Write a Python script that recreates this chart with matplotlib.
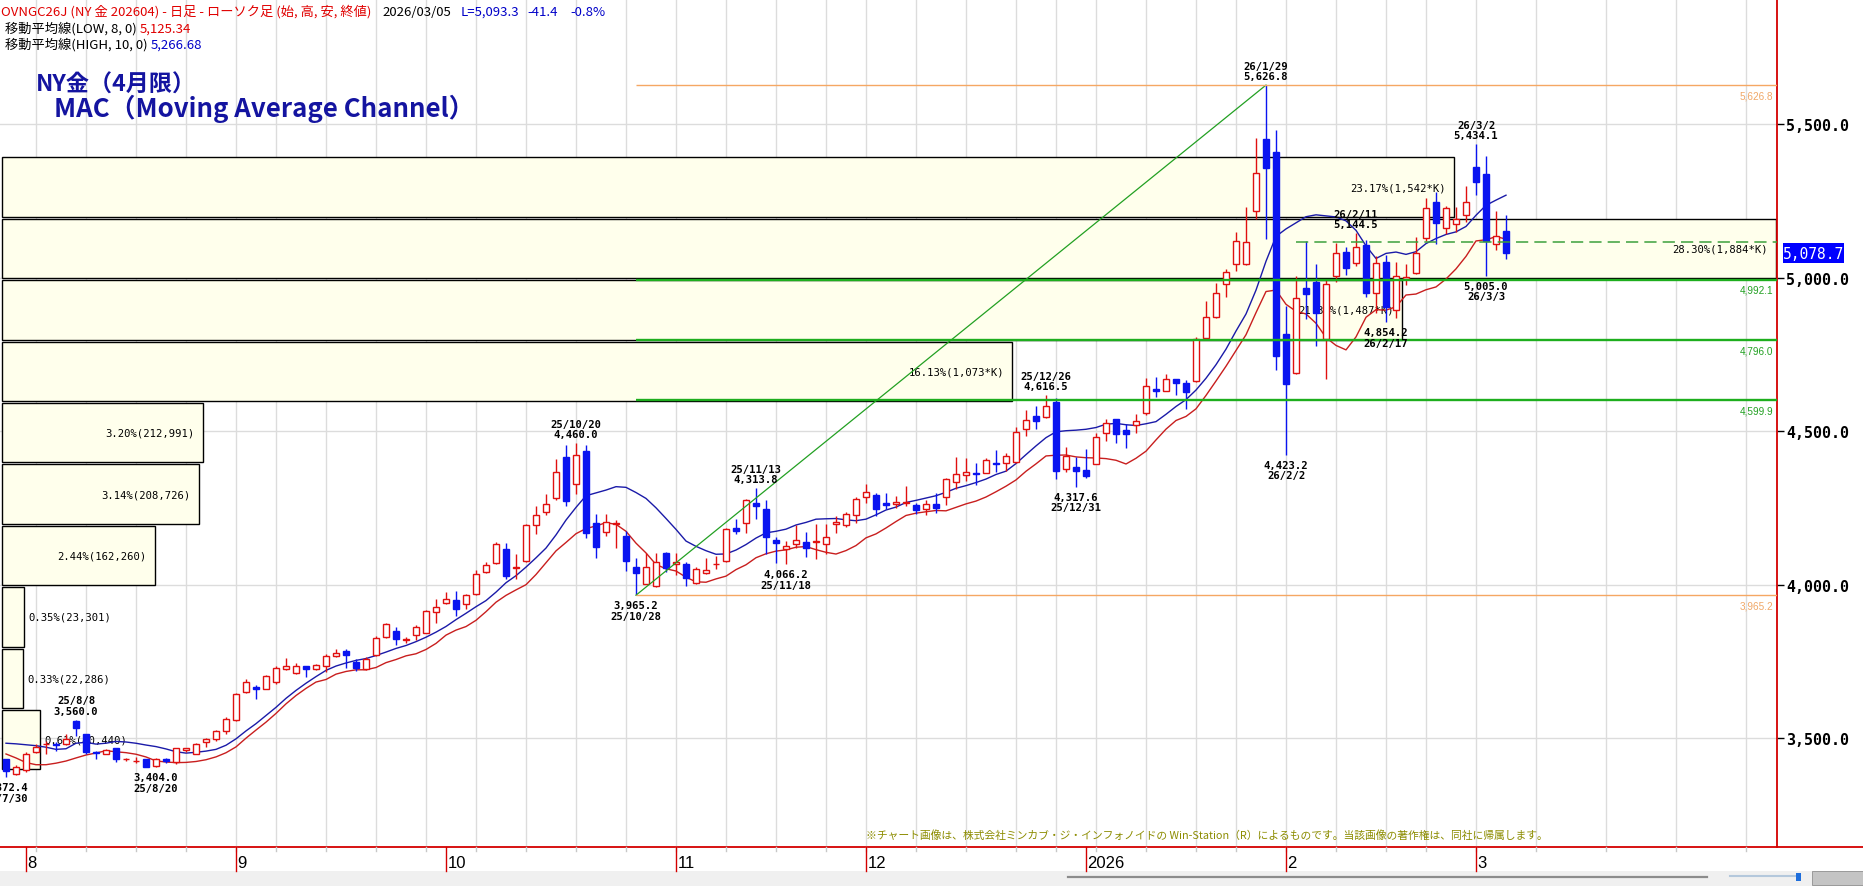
import matplotlib
matplotlib.use("Agg")
import matplotlib.pyplot as plt
import matplotlib.transforms as mtransforms
from matplotlib.patches import Rectangle
from matplotlib.lines import Line2D
from matplotlib import font_manager
import numpy as np
import pandas as pd

# ------------------------------------------------------------------ data
trade_start = "2025-07-30"
trade_end = "2026-03-05"
exchange_holidays = ["2025-09-01", "2025-11-27", "2025-12-25",
                     "2026-01-01", "2026-01-19", "2026-02-16"]

opens = [3431, 3384, 3396, 3453, 3480, 3482, 3480, 3555, 3512, 3455,
         3449, 3466, 3430, 3424, 3431, 3408, 3431, 3422, 3462, 3449,
         3487, 3496, 3523, 3559, 3650, 3666, 3661, 3683, 3724, 3713,
         3733, 3724, 3733, 3767, 3782, 3746, 3724, 3771, 3830, 3849,
         3819, 3836, 3843, 3911, 3941, 3949, 3938, 3968, 4041, 4071,
         4115, 4055, 4077, 4193, 4236, 4283, 4416, 4328, 4435, 4199,
         4172, 4196, 4158, 4058, 4003, 3995, 4102, 4066, 4066, 4006,
         4039, 4066, 4077, 4185, 4201, 4264, 4245, 4144, 4115, 4131,
         4140, 4140, 4131, 4196, 4193, 4225, 4286, 4290, 4267, 4261,
         4266, 4258, 4247, 4263, 4286, 4334, 4356, 4364, 4364, 4397,
         4395, 4399, 4507, 4549, 4547, 4594, 4377, 4384, 4373, 4393,
         4492, 4538, 4503, 4518, 4560, 4636, 4630, 4668, 4657, 4662,
         4803, 4871, 4979, 5045, 5045, 5218, 5451, 5408, 4817, 4690,
         4965, 4984, 4800, 5004, 5082, 5047, 5106, 4949, 5049, 4895,
         4995, 5015, 5128, 5247, 5160, 5175, 5202, 5359, 5337, 5110,
         5153]
highs = [3433, 3411, 3455, 3480, 3491, 3487, 3512, 3560.0, 3514, 3458,
         3463, 3469, 3436, 3439, 3433, 3436, 3436, 3469, 3469, 3485,
         3501, 3526, 3570, 3648, 3691, 3672, 3704, 3733, 3762, 3743,
         3735, 3742, 3773, 3789, 3791, 3756, 3764, 3832, 3874, 3862,
         3830, 3868, 3917, 3954, 3976, 3979, 3970, 4047, 4073, 4138,
         4136, 4098, 4196, 4256, 4294, 4408, 4453, 4460.0, 4453, 4229,
         4229, 4209, 4174, 4087, 4102, 4102, 4106, 4104, 4073, 4057,
         4087, 4093, 4185, 4214, 4280, 4313.8, 4275, 4156, 4142, 4193,
         4171, 4198, 4198, 4223, 4236, 4286, 4326, 4297, 4299, 4288,
         4321, 4267, 4275, 4297, 4348, 4416, 4413, 4397, 4413, 4437,
         4429, 4514, 4567, 4581, 4616.5, 4606, 4449, 4415, 4442, 4494,
         4538, 4540, 4522, 4557, 4673, 4676, 4687, 4670, 4665, 4806,
         4922, 4982, 5028, 5147, 5229, 5453, 5626.8, 5482, 4907, 5005,
         5120, 5044, 4994, 5112, 5101, 5144.5, 5123, 5069, 5073, 5049,
         5044, 5131, 5258, 5277, 5234, 5229, 5299, 5434.1, 5397, 5218,
         5204]
lows = [3372.4, 3379, 3388, 3450, 3449, 3458, 3477, 3507, 3449, 3431,
        3447, 3423, 3426, 3417, 3406, 3404.0, 3420, 3415, 3453, 3447,
        3472, 3491, 3514, 3556, 3648, 3626, 3659, 3675, 3721, 3708,
        3700, 3721, 3715, 3765, 3729, 3718, 3722, 3767, 3827, 3802,
        3811, 3819, 3841, 3876, 3938, 3898, 3919, 3965, 4036, 4066,
        4019, 4019, 4073, 4163, 4225, 4275, 4256, 4294, 4153, 4087,
        4158, 4120, 4044, 3965.2, 4001, 3993, 4041, 4030, 3995, 4001,
        4033, 4052, 4073, 4163, 4167, 4214, 4098, 4070, 4066.2, 4120,
        4091, 4082, 4098, 4169, 4188, 4201, 4267, 4223, 4245, 4250,
        4256, 4229, 4225, 4234, 4258, 4312, 4337, 4323, 4362, 4366,
        4370, 4397, 4484, 4505, 4543, 4343, 4366, 4317.6, 4348, 4391,
        4467, 4462, 4446, 4492, 4551, 4611, 4629, 4616, 4573, 4660,
        4795, 4868, 4936, 5020, 5041, 5191, 5124, 4698, 4423.2, 4687,
        4866, 4778, 4668, 4986, 5008, 5036, 4935, 4884, 4854.2, 4867,
        4974, 5011, 5120, 5109, 5142, 5148, 5180, 5269, 5005.0, 5091,
        5059]
closes = [3393, 3404, 3447, 3472, 3482, 3477, 3498, 3533, 3453, 3450,
          3460, 3431, 3432, 3426, 3407, 3433, 3425, 3466, 3466, 3482,
          3498, 3522, 3563, 3643, 3683, 3659, 3702, 3729, 3735, 3735,
          3724, 3737, 3767, 3776, 3769, 3728, 3756, 3827, 3870, 3822,
          3824, 3863, 3914, 3928, 3954, 3921, 3965, 4033, 4063, 4131,
          4028, 4058, 4193, 4225, 4263, 4367, 4272, 4422, 4167, 4122,
          4205, 4201, 4077, 4039, 4058, 4073, 4055, 4074, 4022, 4052,
          4047, 4068, 4182, 4174, 4275, 4256, 4156, 4136, 4126, 4144,
          4120, 4142, 4156, 4204, 4229, 4280, 4301, 4247, 4259, 4270,
          4269, 4243, 4263, 4250, 4343, 4359, 4366, 4361, 4405, 4393,
          4418, 4498, 4535, 4532, 4581, 4370, 4418, 4370, 4355, 4481,
          4527, 4491, 4489, 4532, 4646, 4630, 4668, 4657, 4627, 4801,
          4871, 4949, 5017, 5120, 5117, 5339, 5356, 4744, 4654, 4933,
          4947, 4884, 4979, 5080, 5030, 5098, 4950, 5047, 4903, 5006,
          5001, 5080, 5225, 5178, 5226, 5191, 5247, 5310, 5120, 5134.7,
          5078.7]

# moving-average values before the window is complete
ma_high_head = [3483, 3481, 3478, 3475, 3470, 3463, 3465, 3483, 3486]
ma_low_head = [3448, 3435, 3420, 3413, 3413, 3418, 3425]
ma_high_len = 10
ma_low_len = 8

# price-band volume boxes
band_tops = [5391, 5191, 4991, 4791, 4591, 4391, 4191, 3991, 3791, 3591]
band_pct = [23.17, 28.30, 21.34, 16.13, 3.20, 3.14, 2.44, 0.35, 0.33, 0.61]
band_vol = [1542000, 1884000, 1487000, 1073000, 212991, 208726, 162260,
            23301, 22286, 40440]
band_vol_text = ["1,542*K", "1,884*K", "1,487*K", "1,073*K", "212,991",
                 "208,726", "162,260", "23,301", "22,286", "40,440"]

fib_ratios = [0.382, 0.5, 0.618]
dashed_level = 5114.6
dashed_start_idx = 129

peak_idx = [7, 57, 75, 104, 126, 135, 147]
trough_idx = [0, 15, 63, 78, 107, 128, 138, 148]

yticks = [3500, 4000, 4500, 5000, 5500]
last_price_box = 5078.7

header_code = "OVNGC26J (NY 金 202604) - 日足 - ローソク足 (始, 高, 安, 終値)"
header_date = "2026/03/05"
header_last = 5093.3
header_chg = -41.4
header_chg_pct = -0.8
ma_low_value = 5125.34
ma_high_value = 5266.68
title1 = "NY金（4月限）"
title2 = "MAC（Moving Average Channel）"
copyright_text = ("※チャート画像は、株式会社ミンカブ・ジ・インフォノイドの Win-Station（R）"
                  "によるものです。当該画像の著作権は、同社に帰属します。")

# ------------------------------------------------------------------ helpers
W, H = 1863, 887
DPI = 100
PLOT_R = 1777      # px, right edge of plot
PLOT_B = 848       # px, bottom edge of plot


def has_font(name):
    try:
        font_manager.findfont(font_manager.FontProperties(family=name),
                              fallback_to_default=False)
        return True
    except Exception:
        return False


NARROW = "Liberation Sans Narrow" if has_font("Liberation Sans Narrow") else "Liberation Sans"
CJK = ["Noto Sans CJK JP", "DejaVu Sans"]
MONO = "DejaVu Sans Mono"

RED = "#E01010"
BLUE = "#0A14F0"
MA_BLUE = "#1A1AA8"
MA_RED = "#C81E1E"
GRID = "#DCDCDC"
BOXFILL = "#FFFFEC"
FIBGREEN = "#1EAE1E"
ORANGE = "#F5A763"


def fx(x):
    return x / W


def fy(y):
    return 1 - y / H


dates = pd.bdate_range(trade_start, trade_end)
dates = dates[~dates.isin(pd.to_datetime(exchange_holidays))]
n = len(closes)
dates = dates[:n]

o = np.array(opens, float)
h = np.array(highs, float)
l = np.array(lows, float)
c = np.array(closes, float)

ma_high = pd.Series(h).rolling(ma_high_len).mean().to_numpy()
ma_high[:len(ma_high_head)] = ma_high_head
ma_low = pd.Series(l).rolling(ma_low_len).mean().to_numpy()
ma_low[:len(ma_low_head)] = ma_low_head

# ------------------------------------------------------------------ figure
fig = plt.figure(figsize=(W / DPI, H / DPI), dpi=DPI)
fig.patch.set_facecolor("white")
ax = fig.add_axes([0, fy(PLOT_B), PLOT_R / W, PLOT_B / H])
x_left = -0.6
x_right = PLOT_R / 10 - 0.6
ax.set_xlim(x_left, x_right)
ax.set_ylim(3144.96, 5907.2)
ax.set_facecolor("white")
for s in ["top", "left", "bottom"]:
    ax.spines[s].set_visible(False)
ax.spines["right"].set_color("#D40000")
ax.spines["right"].set_linewidth(1.3)

# grid
for yt in yticks:
    ax.axhline(yt, color=GRID, lw=1.0, zorder=0)
week_idx = [i for i in range(1, n) if dates[i].weekday() < dates[i - 1].weekday()]
future_idx = list(np.arange(n + 2, x_right, 7))
for wi in week_idx + future_idx:
    ax.axvline(wi, color=GRID, lw=1.0, zorder=0)

# volume boxes
blend = mtransforms.blended_transform_factory(ax.transAxes, ax.transData)
vmax = max(band_vol)
full_w = (PLOT_R - 3) / PLOT_R
x0 = 2 / PLOT_R
box_h = 193
for top, pct, vol, vtxt in zip(band_tops, band_pct, band_vol, band_vol_text):
    wfrac = vol / vmax * full_w
    ax.add_patch(Rectangle((x0, top - box_h), wfrac, box_h, transform=blend,
                           facecolor=BOXFILL, edgecolor="black", lw=1.0, zorder=1))
    label = f"{pct:.2f}%({vtxt})"
    box_px = wfrac * PLOT_R
    if len(label) * 6.2 + 16 < box_px:
        ax.text(x0 + wfrac - 8 / PLOT_R, top - box_h / 2, label, transform=blend,
                ha="right", va="center", fontsize=7.6, family=MONO, color="black",
                zorder=2)
    else:
        ax.text(x0 + wfrac + 4 / PLOT_R, top - box_h / 2, label, transform=blend,
                ha="left", va="center", fontsize=7.6, family=MONO, color="black",
                zorder=2)

# moving averages
xs = np.arange(n)
ax.plot(xs, ma_high, color=MA_BLUE, lw=1.0, zorder=3)
ax.plot(xs, ma_low, color=MA_RED, lw=1.0, zorder=3)

# candles
body_w = 0.62
for i in range(n):
    up = c[i] >= o[i]
    col = RED if up else BLUE
    ax.vlines(i, l[i], h[i], color=col, lw=1.0, zorder=4)
    bot = min(o[i], c[i])
    hgt = max(abs(c[i] - o[i]), 0.8)
    ax.add_patch(Rectangle((i - body_w / 2, bot), body_w, hgt,
                           facecolor="white" if up else col, edgecolor=col,
                           lw=1.0, zorder=5))

# swing, trendline and fibonacci levels
hi_idx = int(np.argmax(h))
lo_idx = int(np.argmin(l[50:hi_idx])) + 50
hi_val, lo_val = h[hi_idx], l[lo_idx]
ax.plot([lo_idx, hi_idx], [lo_val, hi_val], color="#22A022", lw=0.9, zorder=6)
for lv in (hi_val, lo_val):
    ax.hlines(lv, lo_idx, x_right, color=ORANGE, lw=1.0, zorder=6)
fib_levels = [hi_val - r * (hi_val - lo_val) for r in fib_ratios]
for lv in fib_levels:
    ax.hlines(lv, lo_idx, x_right, color=FIBGREEN, lw=1.7, zorder=6)
ax.hlines(dashed_level, dashed_start_idx, x_right, color="#3CA03C", lw=1.1,
          linestyles=(0, (8, 4)), zorder=6)

lab_tr = mtransforms.offset_copy(blend, fig=fig, x=0, y=-10, units="dots")
for lv in (hi_val, lo_val):
    ax.text((PLOT_R - 4) / PLOT_R, lv, f"{lv:,.1f}", transform=lab_tr, ha="right",
            va="center", fontsize=7.2, family=NARROW, color="#F0A868", zorder=7)
for lv in fib_levels:
    ax.text((PLOT_R - 4) / PLOT_R, lv, f"{lv:,.1f}", transform=lab_tr, ha="right",
            va="center", fontsize=7.2, family=NARROW, color="#22A022", zorder=7)


def date_label(i):
    d = dates[i]
    return f"{d.year % 100}/{d.month}/{d.day}"


for i in peak_idx:
    ax.annotate(f"{date_label(i)}\n{h[i]:,.1f}", xy=(i, h[i]), xytext=(0, 4),
                textcoords="offset pixels", ha="center", va="bottom",
                fontsize=7.6, family=MONO, fontweight="bold", linespacing=1.05,
                zorder=8, clip_on=True)
for i in trough_idx:
    ax.annotate(f"{l[i]:,.1f}\n{date_label(i)}", xy=(i, l[i]), xytext=(0, -5),
                textcoords="offset pixels", ha="center", va="top",
                fontsize=7.6, family=MONO, fontweight="bold", linespacing=1.05,
                zorder=8, clip_on=True)

# y axis on right
ax.set_xticks([])
ax.yaxis.tick_right()
ax.set_yticks(yticks)
ax.set_yticklabels([f"{v:,.1f}" for v in yticks])
ax.tick_params(axis="y", which="both", right=True, left=False, length=5,
               width=1, color="black", pad=1.5, labelsize=10.8)
for lb in ax.get_yticklabels():
    lb.set_fontfamily(MONO)
    lb.set_fontweight("bold")

# last price box
py = 278.5 - (last_price_box - 5000) * 0.307
fig.patches.append(Rectangle((fx(1783), fy(py + 10)), 61 / W, 20 / H,
                             transform=fig.transFigure, facecolor="#0000FF",
                             edgecolor="none", zorder=5))
fig.text(fx(1813.5), fy(py), f"{last_price_box:,.1f}", ha="center", va="center",
         color="white", fontsize=10.5, family=MONO, zorder=6)

# bottom axis line & month ticks
fig.add_artist(Line2D([0, 1], [fy(PLOT_B), fy(PLOT_B)], transform=fig.transFigure,
                      color="#D40000", lw=1.3))
for wi in week_idx + future_idx:
    xp = (wi - x_left) * 10
    fig.add_artist(Line2D([fx(xp), fx(xp)], [fy(PLOT_B), fy(PLOT_B + 4)],
                          transform=fig.transFigure, color="#C8C8C8", lw=1))
month_idx = [i for i in range(1, n) if dates[i].month != dates[i - 1].month]
for mi in month_idx:
    xp = (mi - x_left) * 10
    fig.add_artist(Line2D([fx(xp), fx(xp)], [fy(PLOT_B), fy(872)],
                          transform=fig.transFigure, color="#D40000", lw=1))
    d = dates[mi]
    lab = str(d.year) if d.month == 1 else str(d.month)
    fig.text(fx(xp + 1.5), fy(864), lab, ha="left", va="center", fontsize=12,
             family=NARROW, color="black")

# bottom status bar
fig.patches.append(Rectangle((0, 0), 1, 15 / H, transform=fig.transFigure,
                             facecolor="#F0F0F0", edgecolor="none", zorder=0))
fig.add_artist(Line2D([fx(1068), fx(1707)], [fy(878), fy(878)],
                      transform=fig.transFigure, color="#8C8C8C", lw=1.6))
fig.add_artist(Line2D([fx(1730), fx(1800)], [fy(877), fy(877)],
                      transform=fig.transFigure, color="#B4C8DC", lw=1.5))
fig.patches.append(Rectangle((fx(1796), fy(882)), 5 / W, 8 / H,
                             transform=fig.transFigure, facecolor="#1E6EDC",
                             edgecolor="none", zorder=3))
fig.patches.append(Rectangle((fx(1812), fy(886)), 51 / W, 14 / H,
                             transform=fig.transFigure, facecolor="#C4C4C4",
                             edgecolor="#909090", lw=0.6, zorder=3))

# ------------------------------------------------------------------ texts
renderer = fig.canvas.get_renderer()


def put(x, y, s, w=None, color="black", family=CJK, weight="normal", size=9):
    t = fig.text(fx(x), fy(y), s, ha="left", va="center", color=color,
                 family=family, fontweight=weight, fontsize=size, zorder=10)
    if w is not None:
        bb = t.get_window_extent(renderer=renderer)
        if bb.width > 0:
            t.set_fontsize(size * w / bb.width)
    return t


def chain(x, y, segments, size):
    """Place coloured text segments one after another on a line."""
    for s, col, gap in segments:
        t = put(x, y, s, color=col, size=size)
        bb = t.get_window_extent(renderer=renderer)
        x += bb.width + gap


HDR_RED = "#E00000"
HDR_BLUE = "#0000C8"
HS = 9.5
chain(1, 12, [(header_code, HDR_RED, 11),
              (header_date, "black", 9),
              (f"L={header_last:,.1f}", HDR_BLUE, 9),
              (f"{header_chg:.1f}", HDR_BLUE, 12),
              (f"{header_chg_pct:.1f}%", HDR_BLUE, 0)], HS)
chain(5, 29, [(f"移動平均線(LOW, {ma_low_len}, 0)", "black", 3),
              (f"{ma_low_value:,.2f}", HDR_RED, 0)], HS)
chain(5, 45, [(f"移動平均線(HIGH, {ma_high_len}, 0)", "black", 3),
              (f"{ma_high_value:,.2f}", HDR_BLUE, 0)], HS)

put(36, 85, title1, 160, color="#1414A0", weight="bold", size=16)
put(54, 109, title2, 421, color="#1414A0", weight="bold", size=16)

put(866, 835, copyright_text, 684, color="#8C8C00")

fig.savefig("out.png", dpi=DPI, facecolor="white")
